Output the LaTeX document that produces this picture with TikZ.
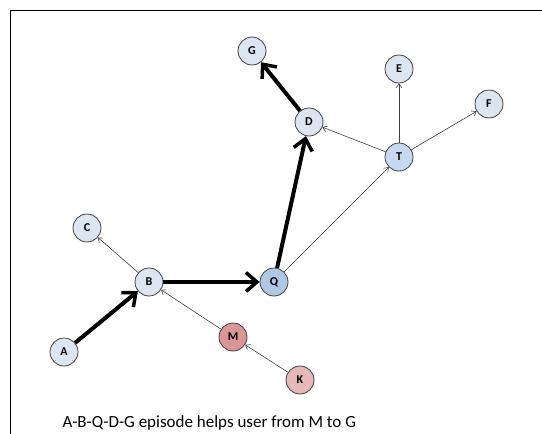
\documentclass[tikz,border=0pt]{standalone}
\usepackage{fontspec}
\setmainfont{Carlito}
\usetikzlibrary{arrows.meta}
\definecolor{NodeLight}{HTML}{DCE6F2}
\definecolor{NodeMid}{HTML}{C6D9F1}
\definecolor{NodeDark}{HTML}{B0C7E3}
\definecolor{NodeRed}{HTML}{D99694}
\definecolor{NodePink}{HTML}{E6B9B8}
\definecolor{EdgeGray}{HTML}{404040}

\begin{document}
\begin{tikzpicture}[
    x=1pt, y=-1pt,
    vertex/.style={circle, draw=EdgeGray, line width=0.8pt, fill=NodeLight,
      minimum size=28pt, inner sep=0pt, font=\bfseries\fontsize{12}{12}\selectfont},
    path/.style={-{Straight Barb[length=11pt, width=19pt, line width=3.5pt]}, line width=4pt, black},
    link/.style={-{Straight Barb[length=4pt, width=6pt]}, line width=0.6pt, EdgeGray}
  ]
    \useasboundingbox (0,0) rectangle (542,434);
    % frame
    \draw[line width=0.8pt] (10,434) |- (542,10);
    % nodes
    \node[vertex] (G) at (252,51) {G};
    \node[vertex] (E) at (399,69) {E};
    \node[vertex] (F) at (489,104) {F};
    \node[vertex] (D) at (309,122) {D};
    \node[vertex, fill=NodeMid] (T) at (399,157) {T};
    \node[vertex] (C) at (87,228) {C};
    \node[vertex] (B) at (149,282) {B};
    \node[vertex, fill=NodeDark] (Q) at (274,282) {Q};
    \node[vertex, fill=NodeRed] (M) at (233,337) {M};
    \node[vertex] (A) at (64,352) {A};
    \node[vertex, fill=NodePink] (K) at (300,380) {K};
    % episode
    \draw[path] (A) -- (B);
    \draw[path] (B) -- (Q);
    \draw[path] (Q) -- (D);
    \draw[path] (D) -- (G);
    % other links
    \draw[link] (B) -- (C);
    \draw[link] (M) -- (B);
    \draw[link] (K) -- (M);
    \draw[link] (Q) -- (T);
    \draw[link] (T) -- (D);
    \draw[link] (T) -- (E);
    \draw[link] (T) -- (F);
    \node[anchor=base west, font=\fontsize{17}{17}\selectfont] (caption) at (59,427) {A-B-Q-D-G episode helps user from M to G};
  \end{tikzpicture}
\end{document}
